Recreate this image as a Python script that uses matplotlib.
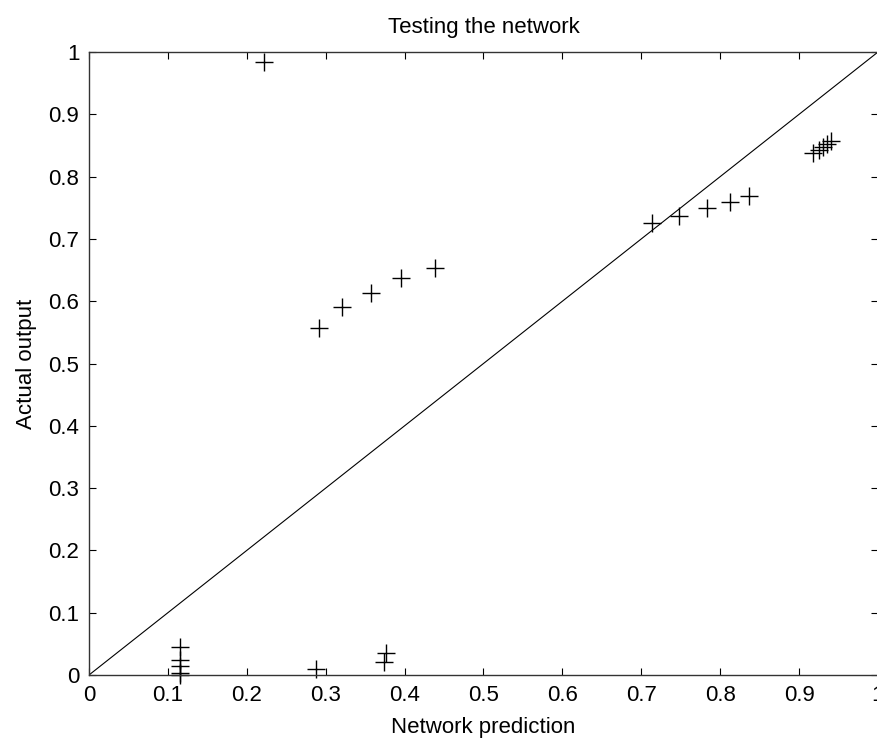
import numpy as np
import matplotlib.pyplot as plt

# network prediction vs actual output
predicted = [0.115, 0.115, 0.115, 0.115, 0.115,
             0.222, 0.288, 0.374, 0.377,
             0.291, 0.321, 0.358, 0.395, 0.439,
             0.713, 0.748, 0.783, 0.812, 0.836,
             0.918, 0.925, 0.930, 0.935, 0.940]
actual = [0.045, 0.024, 0.014, 0.004, 0.0,
          0.984, 0.010, 0.021, 0.035,
          0.557, 0.590, 0.613, 0.637, 0.654,
          0.725, 0.737, 0.749, 0.760, 0.769,
          0.838, 0.843, 0.848, 0.853, 0.857]
ticks = np.arange(0, 11) / 10
tick_labels = ['0', '0.1', '0.2', '0.3', '0.4', '0.5', '0.6', '0.7', '0.8', '0.9', '1']

plt.rcParams['font.family'] = ['Liberation Sans', 'DejaVu Sans']

fig = plt.figure(figsize=(8.78, 7.4), dpi=100)
ax = fig.add_axes([89 / 878, 65 / 740, 789 / 878, 623 / 740])

ax.plot([0, 1], [0, 1], color='black', linewidth=0.8)
ax.plot(predicted, actual, linestyle='none', marker='+', markersize=13,
        markeredgewidth=1.0, color='black', clip_on=False)

ax.set_xlim(0, 1)
ax.set_ylim(0, 1)
ax.set_xticks(ticks)
ax.set_xticklabels(tick_labels)
ax.set_yticks(ticks)
ax.set_yticklabels(tick_labels)
ax.tick_params(direction='in', length=5, width=0.8, top=True, right=True,
               labelsize=16, pad=7, colors='black')
for spine in ax.spines.values():
    spine.set_linewidth(1.0)
    spine.set_color('#333333')

ax.set_xlabel('Network prediction', fontsize=16, labelpad=8)
ax.set_ylabel('Actual output', fontsize=16, labelpad=8)
ax.set_title('Testing the network', fontsize=16, pad=14)

fig.savefig('out.png', dpi=100, facecolor='white')
